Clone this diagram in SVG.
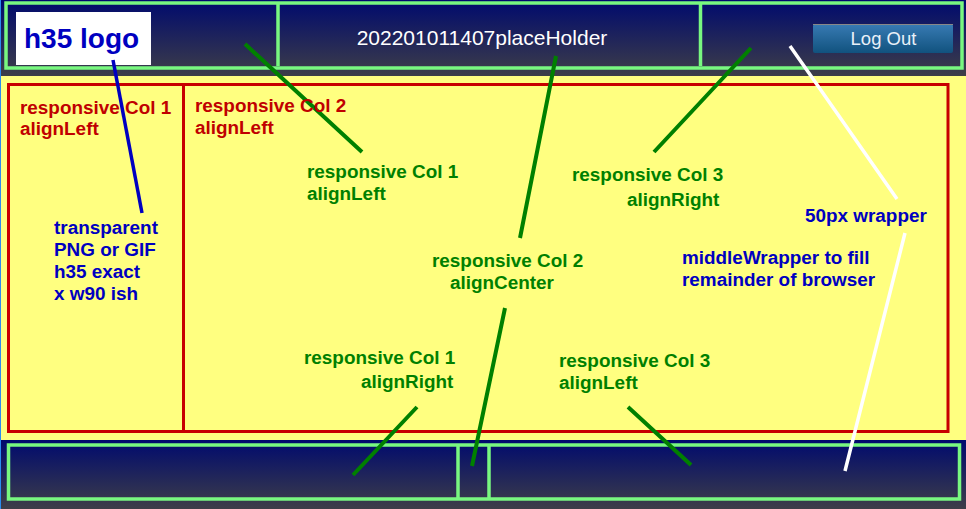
<svg xmlns="http://www.w3.org/2000/svg" width="966" height="509" viewBox="0 0 966 509">
<style>
text{font-family:"Liberation Sans",Arial,sans-serif;font-weight:bold;font-size:18.900px}
.g{fill:#008000}.b{fill:#0000c0}.r{fill:#c00000}
.fr{fill:none;stroke:#78f880;stroke-width:3.500}
.rd{fill:none;stroke:#c80000;stroke-width:3}
.lg{stroke:#008000;stroke-width:4;fill:none}
.lw{stroke:#fff;stroke-width:3.500;fill:none}
</style>
<defs>
<linearGradient id="bar" x1="0" y1="0" x2="0" y2="1"><stop offset="0" stop-color="#000a6e"/><stop offset="1" stop-color="#3e3e48"/></linearGradient>
<linearGradient id="btn" x1="0" y1="0" x2="0" y2="1"><stop offset="0" stop-color="#387bb4"/><stop offset="1" stop-color="#11527e"/></linearGradient>
</defs>
<rect width="966" height="509" fill="#ffff80"/>
<rect x="1" width="965" height="76" fill="url(#bar)"/>
<rect x="0" width="1" height="509" fill="#2a8cf0"/>
<rect x="1" y="440" width="965" height="69" fill="url(#bar)"/>
<g id="header">
<rect class="fr" x="6" y="3" width="956" height="65"/>
<path class="fr" d="M278 3V66M700.500 3V66"/>
</g>
<g id="logo">
<rect x="16" y="12" width="135" height="53" fill="#fff"/>
<text x="24" y="48" class="b" style="font-size:28px">h35 logo</text>
</g>
<g id="title"><text x="482" y="45" text-anchor="middle" fill="#fff" style="font-weight:normal;font-size:21px">202201011407placeHolder</text></g>
<g id="logout">
<rect x="813" y="24" width="140" height="29" rx="2" fill="url(#btn)"/>
<rect x="813" y="24" width="140" height="1" fill="#888"/>
<text x="883.500" y="45" text-anchor="middle" fill="#e8f0f8" style="font-weight:normal;font-size:18.500px">Log Out</text>
</g>
<g id="middle">
<rect class="rd" x="8.500" y="84.500" width="939.500" height="347"/>
<path class="rd" d="M183.500 84.500V431"/>
</g>
<g id="footer">
<rect class="fr" x="8.500" y="445" width="951" height="54"/>
<path class="fr" d="M458 445V499M489 444V499"/>
</g>
<g id="connectors">
<path stroke="#0000c0" stroke-width="3.500" fill="none" d="M113 60L142 213"/>
<path class="lg" d="M245 44L362 152M556 56L520 238M751 48L654 152M505 308L472 466M417 407L353 475M628 407L691 465"/>
<path class="lw" d="M790 46L897 199M905 233L845 471"/>
</g>
<g id="labels">
<text class="r" x="20" y="114">responsive Col 1</text><text class="r" x="20" y="135">alignLeft</text>
<text class="r" x="195" y="112">responsive Col 2</text><text class="r" x="195" y="134">alignLeft</text>
<text class="g" x="307" y="178">responsive Col 1</text><text class="g" x="307" y="200">alignLeft</text>
<text class="g" x="572" y="181">responsive Col 3</text><text class="g" x="627" y="206">alignRight</text>
<text class="g" x="432" y="267">responsive Col 2</text><text class="g" x="450" y="289">alignCenter</text>
<text class="g" x="304" y="364">responsive Col 1</text><text class="g" x="361" y="388">alignRight</text>
<text class="g" x="559" y="367">responsive Col 3</text><text class="g" x="559" y="389">alignLeft</text>
<text class="b" x="54" y="234">transparent</text><text class="b" x="54" y="256">PNG or GIF</text><text class="b" x="54" y="278">h35 exact</text><text class="b" x="54" y="300">x w90 ish</text>
<text class="b" x="805" y="222">50px wrapper</text>
<text class="b" x="682" y="264">middleWrapper to fill</text><text class="b" x="682" y="286">remainder of browser</text>
</g>
</svg>
